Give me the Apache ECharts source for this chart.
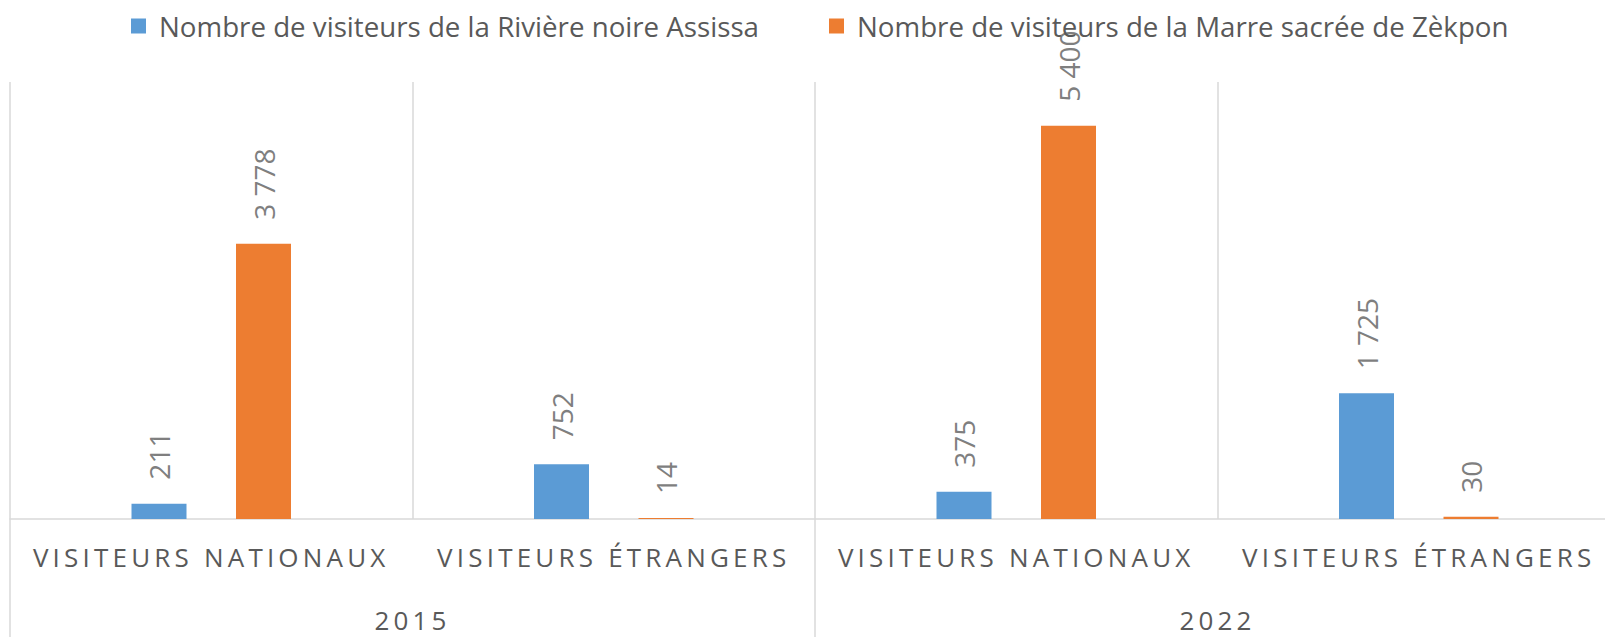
<!DOCTYPE html>
<html>
<head>
<meta charset="utf-8">
<script src="https://cdn.jsdelivr.net/npm/echarts@6/dist/echarts.min.js"></script>
<style>
  html, body { margin: 0; padding: 0; background: #fff; }
  #chart { width: 1605px; height: 637px; overflow: hidden; }
  text[style*="spaced"] { letter-spacing: 4.2px; }
</style>
</head>
<body>
<div id="chart"></div>
<script>
const categories = ['VISITEURS NATIONAUX', 'VISITEURS ÉTRANGERS', 'VISITEURS NATIONAUX', 'VISITEURS ÉTRANGERS'];
const years = ['2015', '2022'];
const seriesNames = ['Nombre de visiteurs de la Rivière noire Assissa', 'Nombre de visiteurs de la Marre sacrée de Zèkpon'];
const assissa = [211, 752, 375, 1725];
const zekpon = [3778, 14, 5400, 30];
const colors = ['#5b9bd5', '#ed7d31'];

const fmt = v => String(v).replace(/\B(?=(\d{3})+(?!\d))/g, ' ');
const gridColor = '#d9d9d9';

const labelOpt = {
  show: true,
  position: 'top',
  rotate: 90,
  align: 'left',
  verticalAlign: 'middle',
  distance: 24,
  color: '#7f7f7f',
  fontFamily: 'Open Sans',
  fontSize: 28,
  formatter: p => fmt(p.value)
};

const chart = echarts.init(document.getElementById('chart'), null, { renderer: 'svg' });
chart.setOption({
  animation: false,
  legend: {
    top: 12,
    left: 131,
    padding: 0,
    itemWidth: 15,
    itemHeight: 15,
    itemGap: 70,
    icon: 'rect',
    textStyle: { fontFamily: 'Open Sans', fontSize: 27.7, color: '#595959', padding: [0, 0, 0, 8] },
    data: seriesNames
  },
  grid: { left: 10, width: 1610, top: 82, bottom: 118, containLabel: false, outerBoundsMode: 'none' },
  xAxis: [
    {
      type: 'category',
      data: categories,
      position: 'bottom',
      axisLine: { show: true, lineStyle: { color: gridColor, width: 1.5 } },
      axisTick: { show: false },
      splitLine: { show: true, interval: 0, lineStyle: { color: gridColor, width: 1.5 } },
      axisLabel: { interval: 0, margin: 25, color: '#595959', fontSize: 26, fontFamily: 'Open Sans, spaced' }
    },
    {
      type: 'category',
      data: years,
      position: 'bottom',
      offset: 0,
      axisLine: { show: false },
      axisTick: { show: true, length: 130, interval: 0, lineStyle: { color: gridColor, width: 1.5 } },
      splitLine: { show: false },
      axisLabel: { interval: 0, margin: 88, color: '#595959', fontSize: 26, fontFamily: 'Open Sans, spaced' }
    }
  ],
  yAxis: { type: 'value', min: 0, max: 6000, show: false, splitLine: { show: false } },
  series: [
    { name: seriesNames[0], type: 'bar', xAxisIndex: 0, data: assissa, barWidth: 55, barGap: '90%', itemStyle: { color: colors[0] }, label: labelOpt },
    { name: seriesNames[1], type: 'bar', xAxisIndex: 0, data: zekpon, barWidth: 55, barGap: '90%', itemStyle: { color: colors[1] }, label: labelOpt }
  ]
});
</script>
</body>
</html>
